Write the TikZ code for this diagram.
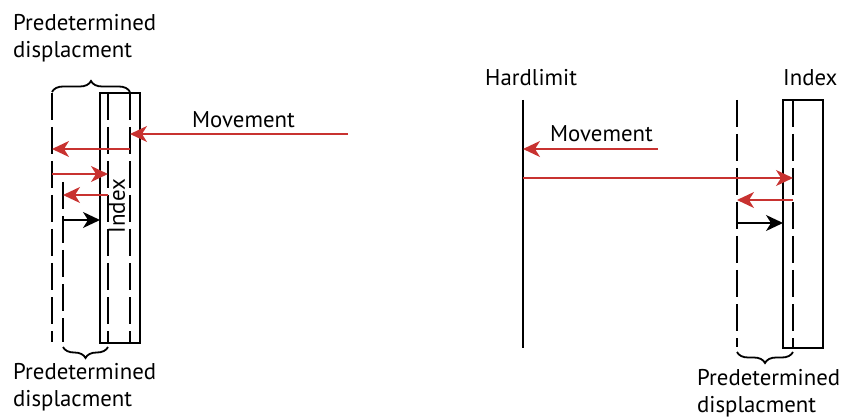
\documentclass[tikz,border=0pt]{standalone}
\usepackage{fontspec}
\setmainfont{PT Sans}
\usetikzlibrary{arrows.meta,decorations.pathreplacing}
\definecolor{arrred}{RGB}{200,50,48}
\begin{document}
\begin{tikzpicture}[x=1pt,y=-1pt,
  lbl/.style={inner sep=0pt,font=\fontsize{22.8}{26.5}\selectfont},
  dline/.style={line width=1.6pt,dash pattern=on 27pt off 7pt},
  sline/.style={line width=1.6pt},
  box/.style={line width=1.3pt},
  mv/.style={arrred,line width=1.4pt,-{Stealth[length=17pt,width=16pt,inset=5pt]}},
  bk/.style={black,line width=1.4pt,-{Stealth[length=17pt,width=16pt,inset=5pt]}},
  brc/.style={line width=1.8pt,decorate,decoration={brace,amplitude=11pt}}]
\useasboundingbox (0,0) rectangle (842,419);

% ---------- left diagram ----------
\coordinate (L1t) at (52,93);  \coordinate (L1b) at (52,342);
\coordinate (L2t) at (63,182); \coordinate (L2b) at (63,342);
\coordinate (I1t) at (108,93); \coordinate (I1b) at (108,343);
\coordinate (I2t) at (130,93); \coordinate (I2b) at (130,343);
\draw[box] (100,93) rectangle (140,343);
\draw[dline] (L1t) -- (L1b);
\draw[dline] (L2t) -- (L2b);
\draw[dline] (I1t) -- (I1b);
\draw[dline] (I2t) -- (I2b);

\node[lbl,anchor=north west,align=left] (ptl) at (13,14.5) {Predetermined\\displacment};
\node[lbl,anchor=north west,align=left] (pbl) at (13,363.5) {Predetermined\\displacment};
\node[lbl,anchor=base west] (mvl) at (192,128) {Movement};
\node[inner sep=0pt,font=\fontsize{23}{28}\selectfont,rotate=90] (idxl) at (117,206) {Index};

\coordinate (m0) at (348,134); \coordinate (m1) at (130,134);
\coordinate (a0) at (130,149); \coordinate (a1) at (52,149);
\coordinate (b0) at (52,174);  \coordinate (b1) at (108,174);
\coordinate (c0) at (108,195); \coordinate (c1) at (63,195);
\coordinate (d0) at (63,220);  \coordinate (d1) at (100,220);
\draw[mv] (m0) -- (m1);
\draw[mv] (a0) -- (a1);
\draw[mv] (b0) -- (b1);
\draw[mv] (c0) -- (c1);
\draw[bk] (d0) -- (d1);

\coordinate (tb0) at (52,92); \coordinate (tb1) at (130,92);
\draw[brc] (tb0) -- (tb1);
\coordinate (bb0) at (108,347); \coordinate (bb1) at (63,347);
\draw[brc] (bb0) -- (bb1);

% ---------- right diagram ----------
\coordinate (Ht) at (523,100); \coordinate (Hb) at (523,348);
\coordinate (Dt) at (737,100); \coordinate (Db) at (737,347);
\coordinate (Jt) at (793,100); \coordinate (Jb) at (793,348);
\draw[sline] (Ht) -- (Hb);
\draw[box] (783,100) rectangle (823,348);
\draw[dline] (Dt) -- (Db);
\draw[dline] (Jt) -- (Jb);

\node[lbl,anchor=base west] (hard) at (485,86) {Hardlimit};
\node[lbl,anchor=base west] (idxr) at (783,86) {Index};
\node[lbl,anchor=base west] (mvr) at (550,142) {Movement};
\node[lbl,anchor=north west,align=left] (pbr) at (697,369.5) {Predetermined\\displacment};

\coordinate (n0) at (658,149); \coordinate (n1) at (523,149);
\coordinate (p0) at (523,178); \coordinate (p1) at (793,178);
\coordinate (q0) at (793,200); \coordinate (q1) at (737,200);
\coordinate (r0) at (737,223); \coordinate (r1) at (783,223);
\draw[mv] (n0) -- (n1);
\draw[mv] (p0) -- (p1);
\draw[mv] (q0) -- (q1);
\draw[bk] (r0) -- (r1);

\coordinate (rb0) at (793,352); \coordinate (rb1) at (737,352);
\draw[brc] (rb0) -- (rb1);
\end{tikzpicture}
\end{document}
